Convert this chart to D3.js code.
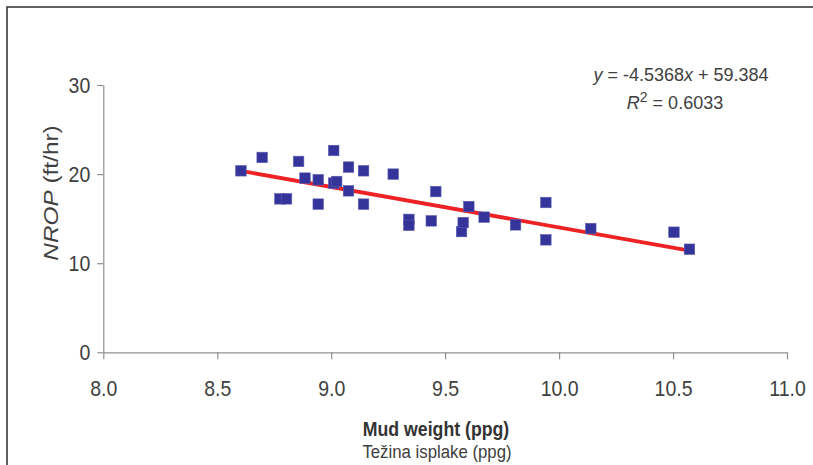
<!DOCTYPE html>
<html><head><meta charset="utf-8">
<script src="https://cdn.jsdelivr.net/npm/d3@7"></script>
<style>
html,body{margin:0;padding:0;background:#fff;}
svg{display:block;font-family:"Liberation Sans",Arial,sans-serif;}
</style></head>
<body>
<svg id="chart" width="813" height="465"></svg>
<script>
// ---- data ----
const mudWeight = [8.604,8.697,8.775,8.804,8.857,8.885,8.943,8.943,9.011,9.011,9.024,9.076,9.076,9.142,9.142,9.272,9.341,9.341,9.439,9.459,9.572,9.579,9.604,9.671,9.809,9.942,9.942,10.139,10.504,10.572];
const nrop      = [20.37,21.87,17.22,17.22,21.42,19.55,19.36,16.63,22.65,18.99,19.17,20.79,18.12,20.37,16.63,20.0,14.92,14.25,14.75,18.04,13.55,14.56,16.36,15.17,14.30,16.81,12.62,13.89,13.48,11.57];
const xTicks = [8.0,8.5,9.0,9.5,10.0,10.5,11.0];
const xTickLabels = ["8.0","8.5","9.0","9.5","10.0","10.5","11.0"];
const yTicks = [0,10,20,30];
const yTickLabels = ["0","10","20","30"];
const slope = -4.5368, intercept = 59.384, r2 = "0.6033";

const svg = d3.select("#chart");
const textCol = "#404040", axisCol = "#8f8f8f";
const vs = 1.16; // vertical text stretch seen in the reference

// frame
svg.append("rect").attr("x",7).attr("y",7).attr("width",900).attr("height",600)
  .attr("fill","none").attr("stroke","#3a3a3a").attr("stroke-width",1.6);

const x = d3.scaleLinear().domain([8,11]).range([103.3,787]);
const y = d3.scaleLinear().domain([0,30]).range([352.3,85]);

// x axis
const gx = svg.append("g").attr("transform",`translate(0,${y(0)})`)
  .call(d3.axisBottom(x).tickValues(xTicks).tickSize(7).tickSizeOuter(0)
        .tickFormat((d,i)=>xTickLabels[i]));
gx.select(".domain").attr("stroke",axisCol).attr("stroke-width",1.2);
gx.selectAll(".tick line").attr("stroke",axisCol).attr("stroke-width",1.2);
gx.selectAll(".tick text").attr("y",0).attr("dy",0)
  .attr("transform",`translate(0,44) scale(1,${vs})`)
  .attr("font-size",19.5).attr("fill",textCol).attr("font-family","Liberation Sans, Arial, sans-serif");

// y axis
const gy = svg.append("g").attr("transform",`translate(${x(8)},0)`)
  .call(d3.axisLeft(y).tickValues(yTicks).tickSize(6).tickSizeOuter(0)
        .tickFormat((d,i)=>yTickLabels[i]));
gy.select(".domain").attr("stroke",axisCol).attr("stroke-width",1.2);
gy.selectAll(".tick line").attr("stroke",axisCol).attr("stroke-width",1.2);
gy.selectAll(".tick text").attr("x",0).attr("dy",0)
  .attr("transform",`translate(-13,7.5) scale(1,${vs})`)
  .attr("font-size",19.5).attr("fill",textCol).attr("font-family","Liberation Sans, Arial, sans-serif");

// regression line
const x0 = d3.min(mudWeight), x1 = d3.max(mudWeight);
svg.append("line")
  .attr("x1",x(x0)).attr("y1",y(slope*x0+intercept))
  .attr("x2",x(x1)).attr("y2",y(slope*x1+intercept))
  .attr("stroke","#ee2224").attr("stroke-width",3.8);

// points
const s = 10.5;
svg.append("g").selectAll("rect").data(mudWeight).join("rect")
  .attr("x",(d)=>x(d)-s/2).attr("y",(d,i)=>y(nrop[i])-s/2)
  .attr("width",s).attr("height",s)
  .attr("fill","#34349a").attr("stroke","#5a5ab0").attr("stroke-width",0.6);

// equation
const eq = svg.append("text").attr("x",681).attr("y",80.5).attr("text-anchor","middle")
  .attr("font-size",18).attr("fill",textCol);
eq.append("tspan").attr("font-style","italic").text("y");
eq.append("tspan").text(" = " + slope + "");
eq.append("tspan").attr("font-style","italic").text("x");
eq.append("tspan").text(" + " + intercept);

const rt = svg.append("text").attr("x",675).attr("y",109).attr("text-anchor","middle")
  .attr("font-size",18).attr("fill",textCol);
rt.append("tspan").attr("font-style","italic").text("R");
rt.append("tspan").attr("font-size",14).attr("dy",-7).text("2");
rt.append("tspan").attr("dy",7).text(" = " + r2);

// y label
const yl = svg.append("text").attr("text-anchor","middle")
  .attr("transform",`translate(58,193) scale(1,${vs}) rotate(-90)`)
  .attr("font-size",21).attr("fill",textCol);
yl.append("tspan").attr("font-style","italic").text("NROP");
yl.append("tspan").text(" (ft/hr)");

// x labels
svg.append("text").attr("text-anchor","middle")
  .attr("transform",`translate(436,435.5) scale(1,1.1)`)
  .attr("font-size",17.7).attr("font-weight","bold").attr("fill","#333")
  .text("Mud weight (ppg)");
svg.append("text").attr("text-anchor","middle")
  .attr("transform",`translate(437,458) scale(1,1.1)`)
  .attr("font-size",16.8).attr("fill",textCol)
  .text("Težina isplake (ppg)");
</script>
</body></html>
